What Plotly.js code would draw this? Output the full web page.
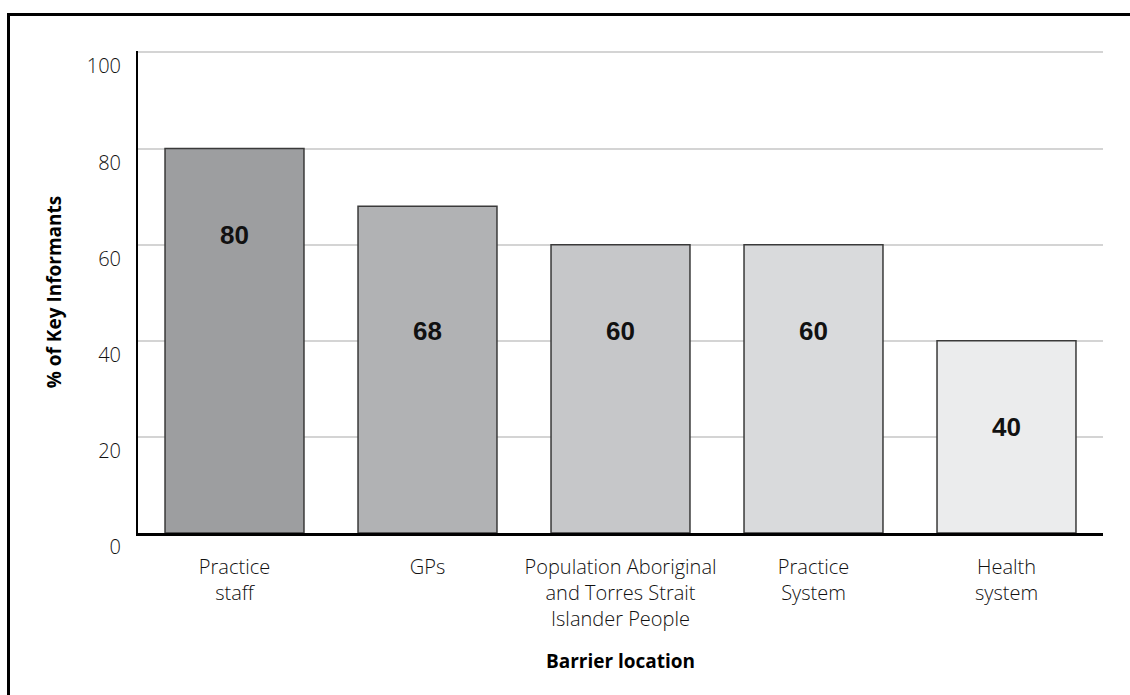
<!DOCTYPE html>
<html>
<head>
<meta charset="utf-8">
<script src="https://cdn.plot.ly/plotly-3.0.1.min.js"></script>
<style>
  html, body { margin: 0; padding: 0; background: #fff; }
  #wrap { position: relative; width: 1130px; height: 695px; overflow: hidden; }
  #chart { position: absolute; left: 0; top: 0; width: 1130px; height: 695px; }
  #frame { position: absolute; left: 7px; top: 13px; width: 1200px; height: 800px;
           border-top: 3px solid #000; border-left: 3px solid #000; pointer-events: none; }
</style>
</head>
<body>
<div id="wrap">
  <div id="chart"></div>
  <div id="frame"></div>
</div>
<script>
// Data
const categories = [
  "Practice<br>staff",
  "GPs",
  "Population Aboriginal<br>and Torres Strait<br>Islander People",
  "Practice<br>System",
  "Health<br>system"
];
const values = [80, 68, 60, 60, 40];
const valueLabels = ["80", "68", "60", "60", "40"];
const yTickVals = [0, 20, 40, 60, 80, 100];
const yTickText = ["0", "20", "40", "60", "80", "100"];

// Styling (not data)
const barColors = ["#9d9ea0", "#b1b2b4", "#c6c7c9", "#d9dadc", "#ebeced"];
const labelY = [62, 42, 42, 42, 22];

const trace = {
  type: "bar",
  x: categories,
  y: values,
  marker: { color: barColors, line: { color: "#3a3a3a", width: 1.5 } },
  hoverinfo: "none"
};

const annotations = categories.map((c, i) => ({
  x: c, y: labelY[i], xref: "x", yref: "y",
  text: "<b>" + valueLabels[i] + "</b>",
  showarrow: false,
  font: { family: "Liberation Sans, Arial, sans-serif", size: 26, color: "#111" }
}));

const tickFont = { family: "Open Sans, sans-serif", size: 20, weight: 300, color: "#111" };

const layout = {
  width: 1130, height: 695,
  margin: { l: 138, r: 27, t: 51, b: 162 },
  paper_bgcolor: "#fff", plot_bgcolor: "#fff",
  showlegend: false,
  bargap: 0.28,
  font: { family: "Open Sans, sans-serif", size: 20, color: "#111" },
  xaxis: {
    type: "category",
    showgrid: false,
    showline: true, linecolor: "#000", linewidth: 2.5,
    ticks: "", ticklabelstandoff: 14,
    tickfont: tickFont,
    title: { text: "<b>Barrier location</b>", standoff: 24,
             font: { family: "Open Sans, sans-serif", size: 19, color: "#000" } },
    fixedrange: true
  },
  yaxis: {
    range: [0, 100.3],
    tickvals: yTickVals, ticktext: yTickText,
    showgrid: true, gridcolor: "#d4d4d4", gridwidth: 2,
    zeroline: false,
    showline: true, linecolor: "#000", linewidth: 2,
    ticks: "", ticklabelposition: "outside bottom", ticklabelstandoff: 11,
    tickfont: tickFont,
    title: { text: "<b>% of Key Informants</b>", standoff: 20,
             font: { family: "Open Sans, sans-serif", size: 19, color: "#000" } },
    fixedrange: true
  },
  annotations: annotations
};

Plotly.newPlot("chart", [trace], layout, { displayModeBar: false, staticPlot: true });
</script>
</body>
</html>
